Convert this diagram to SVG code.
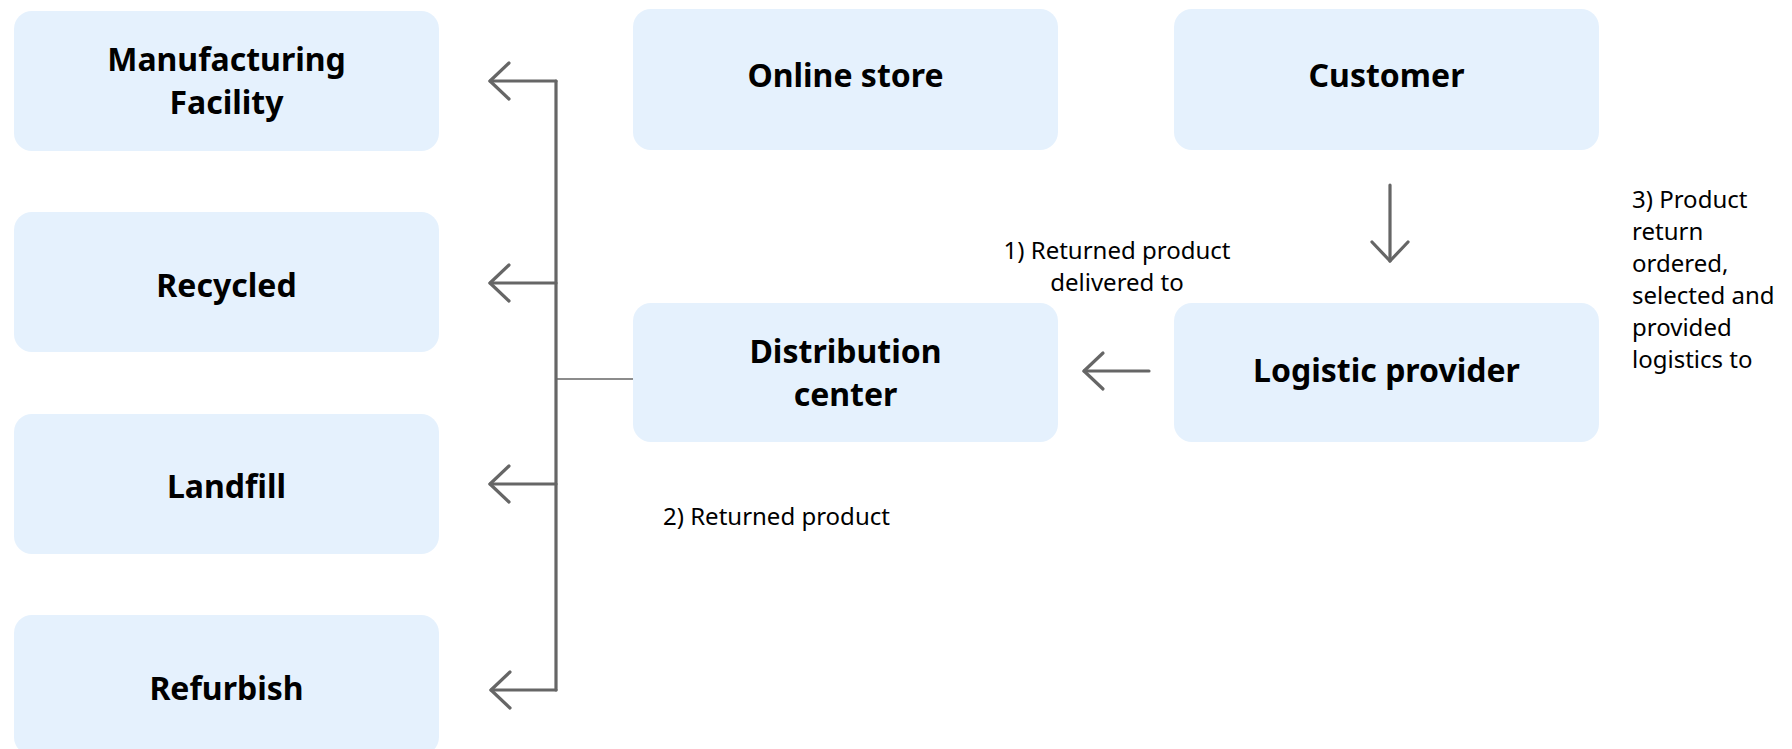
<svg xmlns="http://www.w3.org/2000/svg" width="1792" height="749" viewBox="0 0 1792 749">
  <style>
    .box { fill: #E5F1FD; }
    .title { font-family: "Noto Sans", "Open Sans", sans-serif; font-weight: 700; font-size: 32px; fill: #000; text-anchor: middle; }
    .note { font-family: "Noto Sans", "Open Sans", sans-serif; font-size: 24px; fill: #000; }
    .link { fill: none; stroke: #666; stroke-width: 3.2; stroke-linecap: round; stroke-linejoin: round; }
    .thin { fill: none; stroke: #666; stroke-width: 1.6; }
  </style>
  <defs>
    <marker id="chev" markerUnits="userSpaceOnUse" markerWidth="40" markerHeight="40" viewBox="-30 -20 40 40" refX="0" refY="0" orient="auto" overflow="visible">
      <path d="M-19,-18 L0,0 L-19,18" fill="none" stroke="#666" stroke-width="3.2" stroke-linecap="round" stroke-linejoin="round"/>
    </marker>
  </defs>
  <rect width="1792" height="749" fill="#fff"/>

  <g id="manufacturing">
    <rect class="box" x="14" y="11" width="425" height="140" rx="18"/>
    <text class="title" x="226.5" y="71">Manufacturing</text>
    <text class="title" x="226.5" y="114">Facility</text>
  </g>
  <g id="recycled">
    <rect class="box" x="14" y="212" width="425" height="140" rx="18"/>
    <text class="title" x="226.5" y="297">Recycled</text>
  </g>
  <g id="landfill">
    <rect class="box" x="14" y="414" width="425" height="140" rx="18"/>
    <text class="title" x="226.5" y="498">Landfill</text>
  </g>
  <g id="refurbish">
    <rect class="box" x="14" y="615" width="425" height="140" rx="18"/>
    <text class="title" x="226.5" y="700">Refurbish</text>
  </g>
  <g id="online-store">
    <rect class="box" x="633" y="9" width="425" height="141" rx="18"/>
    <text class="title" x="845.5" y="87">Online store</text>
  </g>
  <g id="customer">
    <rect class="box" x="1174" y="9" width="425" height="141" rx="18"/>
    <text class="title" x="1386.5" y="87">Customer</text>
  </g>
  <g id="distribution-center">
    <rect class="box" x="633" y="303" width="425" height="139" rx="18"/>
    <text class="title" x="845.5" y="363">Distribution</text>
    <text class="title" x="845.5" y="406">center</text>
  </g>
  <g id="logistic-provider">
    <rect class="box" x="1174" y="303" width="425" height="139" rx="18"/>
    <text class="title" x="1386.5" y="382">Logistic provider</text>
  </g>

  <g id="connectors">
    <path class="thin" d="M556,379 H633"/>
    <path class="link" d="M556,81 V690"/>
    <path class="link" d="M556,81 H490" marker-end="url(#chev)"/>
    <path class="link" d="M556,283 H490" marker-end="url(#chev)"/>
    <path class="link" d="M556,484 H490" marker-end="url(#chev)"/>
    <path class="link" d="M556,690 H491" marker-end="url(#chev)"/>
    <path class="link" d="M1390,185 V261" marker-end="url(#chev)"/>
    <path class="link" d="M1149,371 H1084" marker-end="url(#chev)"/>
  </g>

  <g id="labels">
    <text class="note" x="1117" y="259" text-anchor="middle">1) Returned product</text>
    <text class="note" x="1117" y="291" text-anchor="middle">delivered to</text>
    <text class="note" x="663" y="525">2) Returned product</text>
    <text class="note" x="1632" y="208">3) Product</text>
    <text class="note" x="1632" y="240">return</text>
    <text class="note" x="1632" y="272">ordered,</text>
    <text class="note" x="1632" y="304">selected and</text>
    <text class="note" x="1632" y="336">provided</text>
    <text class="note" x="1632" y="368">logistics to</text>
  </g>
</svg>
